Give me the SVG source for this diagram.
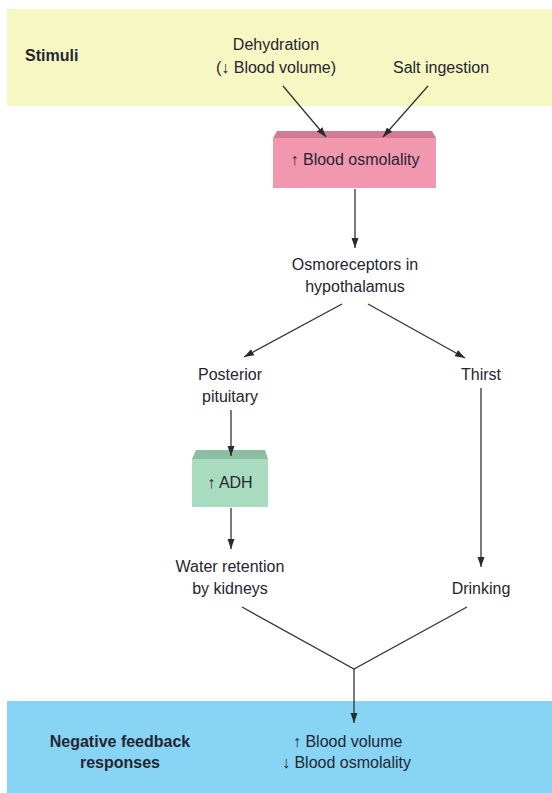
<svg xmlns="http://www.w3.org/2000/svg" width="552" height="793" viewBox="0 0 552 793">
<defs>
<marker id="ah" viewBox="0 0 10 10" refX="10" refY="5" markerWidth="10" markerHeight="10" markerUnits="userSpaceOnUse" orient="auto">
<path d="M0,1.5 L10,5 L0,8.5 Z" fill="#2b2b2b"/>
</marker>
<style>
.t{font-family:"Liberation Sans",Arial,sans-serif;font-size:16px;fill:#252530;text-anchor:middle}
.b{font-weight:bold}
.s{text-anchor:start}
.c{stroke:#333;stroke-width:1.3;fill:none}
.a{marker-end:url(#ah)}
</style>
</defs>
<rect width="552" height="793" fill="#fff"/>
<g id="stimuli-band">
<rect x="7" y="9" width="545" height="97" fill="#F6F7C3"/>
<text class="t b s" x="25" y="61">Stimuli</text>
</g>
<g id="dehydration">
<text class="t" x="276" y="50">Dehydration</text>
<text class="t" x="276" y="73">(↓ Blood volume)</text>
</g>
<g id="salt">
<text class="t" x="441" y="73">Salt ingestion</text>
</g>
<g id="blood-osmolality">
<rect x="273" y="138" width="163" height="50" fill="#F198AF"/>
<polygon points="277,131 432,131 436,138 273,138" fill="#D27B93"/>
<text class="t" x="355" y="165">↑ Blood osmolality</text>
</g>
<g id="osmoreceptors">
<text class="t" x="355" y="270">Osmoreceptors in</text>
<text class="t" x="355" y="292">hypothalamus</text>
</g>
<g id="posterior-pituitary">
<text class="t" x="230" y="380">Posterior</text>
<text class="t" x="230" y="402">pituitary</text>
</g>
<g id="thirst">
<text class="t" x="481" y="380">Thirst</text>
</g>
<g id="adh">
<rect x="192" y="459" width="76" height="48" fill="#A8DBBF"/>
<polygon points="196,450 265,450 268,459 192,459" fill="#8CBFA2"/>
<text class="t" x="230" y="488">↑ ADH</text>
</g>
<g id="water-retention">
<text class="t" x="230" y="572">Water retention</text>
<text class="t" x="230" y="594">by kidneys</text>
</g>
<g id="drinking">
<text class="t" x="481" y="594">Drinking</text>
</g>
<g id="responses-band">
<rect x="7" y="701" width="545" height="92" fill="#87D4F5"/>
<text class="t b" x="120" y="747">Negative feedback</text>
<text class="t b" x="120" y="768">responses</text>
<text class="t s" x="293" y="747">↑ Blood volume</text>
<text class="t s" x="282" y="768">↓ Blood osmolality</text>
</g>
<g id="connectors">
<line class="c a" x1="283" y1="86" x2="326" y2="137"/>
<line class="c a" x1="428" y1="86" x2="383" y2="137"/>
<line class="c a" x1="355" y1="189" x2="355" y2="248"/>
<line class="c a" x1="342" y1="304" x2="244" y2="357"/>
<line class="c a" x1="368" y1="304" x2="465" y2="358"/>
<line class="c a" x1="231" y1="410" x2="231" y2="456"/>
<line class="c a" x1="231" y1="508" x2="231" y2="549"/>
<line class="c a" x1="481" y1="388" x2="481" y2="567"/>
<polyline class="c" points="242,607 354,669 467,607"/>
<line class="c a" x1="354" y1="669" x2="354" y2="723"/>
</g>
</svg>
